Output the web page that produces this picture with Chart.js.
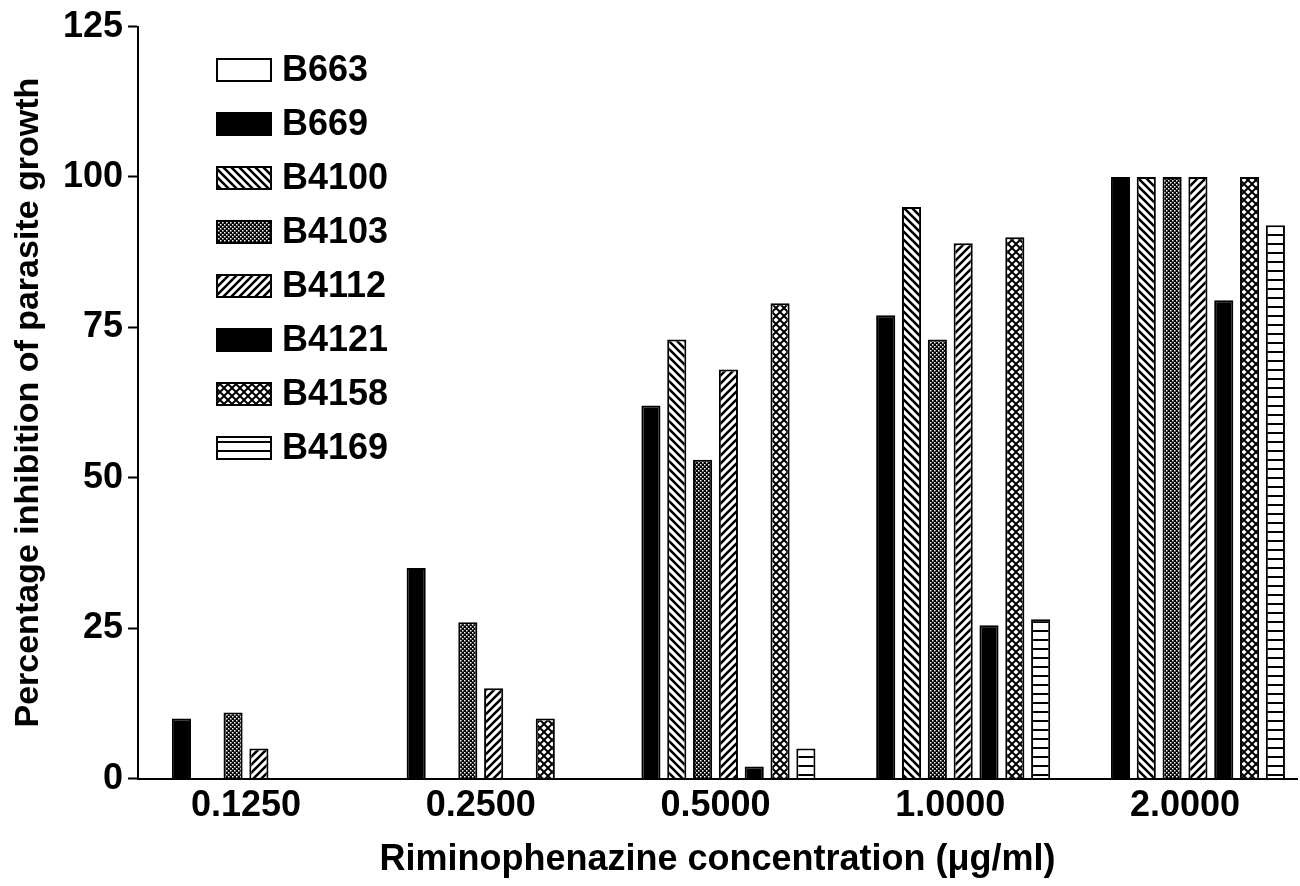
<!DOCTYPE html>
<html>
<head>
<meta charset="utf-8">
<script src="https://cdn.jsdelivr.net/npm/chart.js@4/dist/chart.umd.min.js"></script>
<style>
  html, body { margin: 0; padding: 0; background: #fff; }
  #wrap { width: 1300px; height: 886px; position: relative; }
</style>
</head>
<body>
<div id="wrap"><canvas id="chart"></canvas></div>
<script>
// --- Dados ---
const concentrations = ['0.1250', '0.2500', '0.5000', '1.0000', '2.0000'];
const strains = ['B663', 'B669', 'B4100', 'B4103', 'B4112', 'B4121', 'B4158', 'B4169'];
const yTicks = [0, 25, 50, 75, 100, 125];

const b663 = [0, 0, 0, 0, 0];
const b669 = [10, 35, 62, 77, 100];
const b4100 = [0, 0, 73, 95, 100];
const b4103 = [11, 26, 53, 73, 100];
const b4112 = [5, 15, 68, 89, 100];
const b4121 = [0, 0, 2, 25.5, 79.5];
const b4158 = [0, 10, 79, 90, 100];
const b4169 = [0, 0, 5, 26.5, 92];

const seriesValues = [b663, b669, b4100, b4103, b4112, b4121, b4158, b4169];
const seriesFills = ['white', 'black', 'diagDown', 'dots', 'diagUp', 'black', 'cross', 'hlines'];

const FONT = "'Liberation Sans', Arial, Helvetica, sans-serif";

// --- Padrões de preenchimento (hachuras) ---
function makeTile(size, draw) {
    const c = document.createElement('canvas');
    c.width = size; c.height = size;
    const ctx = c.getContext('2d');
    draw(ctx, size);
    return document.createElement('canvas').getContext('2d').createPattern(c, 'repeat');
}

function getFill(kind) {
    if (kind === 'white') return '#ffffff';
    if (kind === 'black') return '#000000';
    if (kind === 'diagDown' || kind === 'diagUp') {
        return makeTile(8, (ctx, s) => {
            ctx.fillStyle = '#fff'; ctx.fillRect(0, 0, s, s);
            ctx.strokeStyle = '#000'; ctx.lineWidth = 2.6;
            ctx.beginPath();
            for (const k of [-s, 0, s]) {
                if (kind === 'diagDown') { ctx.moveTo(k - 1, -1); ctx.lineTo(k + s + 1, s + 1); }
                else { ctx.moveTo(k + s + 1, -1); ctx.lineTo(k - 1, s + 1); }
            }
            ctx.stroke();
        });
    }
    if (kind === 'dots') {
        return makeTile(4, (ctx, s) => {
            ctx.fillStyle = '#000'; ctx.fillRect(0, 0, s, s);
            ctx.fillStyle = '#fff';
            ctx.fillRect(0, 0, 1.5, 1.5);
            ctx.fillRect(2, 2, 1.5, 1.5);
        });
    }
    if (kind === 'cross') {
        return makeTile(8, (ctx, s) => {
            ctx.fillStyle = '#000'; ctx.fillRect(0, 0, s, s);
            ctx.fillStyle = '#fff';
            const d = 2.6;
            for (const [cx, cy] of [[4, 4], [0, 0], [8, 0], [0, 8], [8, 8]]) {
                ctx.beginPath();
                ctx.moveTo(cx, cy - d); ctx.lineTo(cx + d, cy); ctx.lineTo(cx, cy + d); ctx.lineTo(cx - d, cy);
                ctx.closePath(); ctx.fill();
            }
        });
    }
    if (kind === 'hlines') {
        return makeTile(9, (ctx, s) => {
            ctx.fillStyle = '#fff'; ctx.fillRect(0, 0, s, s);
            ctx.fillStyle = '#000'; ctx.fillRect(0, 0, s, 2);
        });
    }
    return '#000';
}

const datasets = strains.map((name, i) => ({
    label: name,
    data: seriesValues[i],
    backgroundColor: getFill(seriesFills[i]),
    borderColor: '#000',
    borderWidth: 2,
    borderSkipped: 'start',
    categoryPercentage: 0.88,
    barPercentage: 0.74
}));

// --- Legenda desenhada dentro da área do gráfico ---
const insideLegend = {
    id: 'insideLegend',
    afterDraw(chart) {
        const ctx = chart.ctx;
        ctx.save();
        chart.data.datasets.forEach((ds, i) => {
            const y = 70 + i * 54;
            ctx.fillStyle = ds.backgroundColor;
            ctx.fillRect(216, y - 12, 56, 24);
            ctx.strokeStyle = '#000';
            ctx.lineWidth = 2;
            ctx.strokeRect(217, y - 11, 54, 22);
            ctx.fillStyle = '#000';
            ctx.font = `bold 36px ${FONT}`;
            ctx.textBaseline = 'middle';
            ctx.textAlign = 'left';
            ctx.fillText(ds.label, 282, y + 1);
        });
        ctx.restore();
    }
};

// O eixo x original é um pouco mais largo que a área do gráfico (grupos deslocados)
const widenCategoryAxis = {
    id: 'widenCategoryAxis',
    afterLayout(chart) {
        const x = chart.scales.x;
        const l = x.left, r = x.right;
        x.left = l - 9.4;
        x.right = r + 5.4;
        x.width = x.right - x.left;
        x.configure();
        x.left = l;
        x.right = r;
        x.width = r - l;
    }
};

new Chart(document.getElementById('chart'), {
    type: 'bar',
    data: { labels: concentrations, datasets: datasets },
    options: {
        responsive: true,
        maintainAspectRatio: false,
        animation: false,
        layout: { padding: { top: 22, right: 3, bottom: 2, left: 0 } },
        plugins: { legend: { display: false }, tooltip: { enabled: false } },
        scales: {
            x: {
                grid: { display: false, drawTicks: false },
                border: { display: true, color: '#000', width: 2 },
                ticks: { color: '#000', padding: 6, font: { family: FONT, size: 36, weight: 'bold' } },
                title: {
                    display: true,
                    text: 'Riminophenazine concentration (μg/ml)',
                    color: '#000',
                    font: { family: FONT, size: 36, weight: 'bold' },
                    padding: { top: 5, bottom: 2 }
                }
            },
            y: {
                min: 0,
                max: 125,
                afterBuildTicks: (scale) => { scale.ticks = yTicks.map(v => ({ value: v })); },
                afterFit: (scale) => { scale.width = 138; },
                grid: { drawOnChartArea: false, drawTicks: true, tickLength: 10, tickWidth: 2, color: '#000' },
                border: { display: true, color: '#000', width: 2 },
                ticks: { color: '#000', padding: 5, font: { family: FONT, size: 36, weight: 'bold' } },
                title: {
                    display: true,
                    text: 'Percentage inhibition of parasite growth',
                    color: '#000',
                    font: { family: FONT, size: 34, weight: 'bold' },
                    padding: { top: 8, bottom: 0 }
                }
            }
        }
    },
    plugins: [insideLegend, widenCategoryAxis]
});
</script>
</body>
</html>
